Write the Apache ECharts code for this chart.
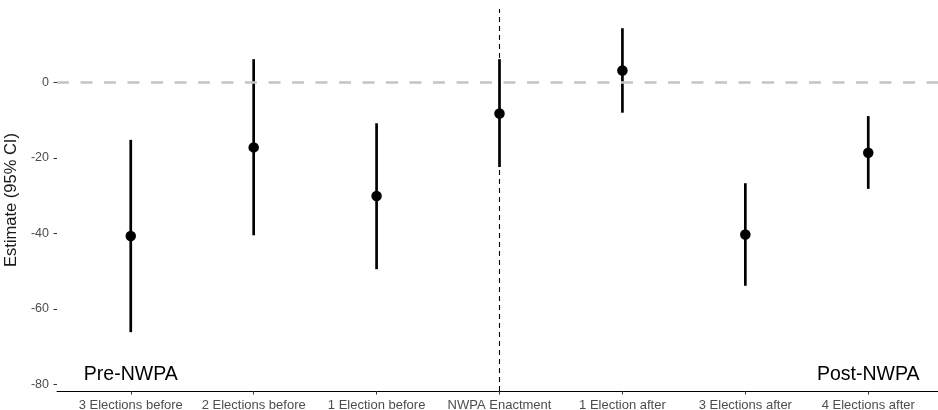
<!DOCTYPE html>
<html>
<head>
<meta charset="utf-8">
<script src="https://cdn.jsdelivr.net/npm/echarts@6/dist/echarts.min.js"></script>
<style>
  html, body { margin: 0; padding: 0; background: #fff; }
  #chart { width: 938px; height: 410px; }
</style>
</head>
<body>
<div id="chart"></div>
<script>
// Event-study estimates with 95% confidence intervals around NWPA enactment
const categories = ['3 Elections before', '2 Elections before', '1 Election before',
  'NWPA Enactment', '1 Election after', '3 Elections after', '4 Elections after'];
const estimates = [-40.7, -17.2, -30.1, -8.2, 3.2, -40.3, -18.6];
const ciLower = [-66.2, -40.5, -49.5, -22.4, -8.0, -53.9, -28.2];
const ciUpper = [-15.2, 6.2, -10.8, 6.2, 14.4, -26.7, -8.9];
const yTicks = [-80, -60, -40, -20, 0];
const referenceY = 0;
const enactmentIndex = 3;
const periodLabels = ['Pre-NWPA', 'Post-NWPA'];
const periodLabelX = [0, 6];
const periodLabelY = -77.4;

const xIdx = categories.map((_, i) => i);
const font = 'Liberation Sans, Arial, Helvetica, sans-serif';

const chart = echarts.init(document.getElementById('chart'), null, { renderer: 'canvas' });

chart.setOption({
  animation: false,
  backgroundColor: '#ffffff',
  grid: { left: 57, right: -4, top: 9, bottom: 19, containLabel: false, outerBoundsMode: 'none' },
  xAxis: {
    type: 'value',
    min: -0.6,
    max: 6.6,
    splitLine: { show: false },
    axisLine: { show: true, onZero: false, lineStyle: { color: '#000', width: 1 } },
    axisTick: { show: true, customValues: xIdx, length: 3.5, lineStyle: { color: '#333', width: 1 } },
    axisLabel: {
      customValues: xIdx,
      formatter: v => categories[Math.round(v)] || '',
      color: '#4d4d4d', fontSize: 13, fontFamily: font, margin: 8
    }
  },
  yAxis: {
    type: 'value',
    min: -81.8,
    max: 19.5,
    name: 'Estimate (95% CI)',
    nameLocation: 'middle',
    nameRotate: 90,
    nameGap: 36,
    nameTextStyle: { color: '#1a1a1a', fontSize: 16.5, fontFamily: font },
    splitLine: { show: false },
    axisLine: { show: true, onZero: false, lineStyle: { color: 'rgba(0,0,0,0)' } },
    axisTick: { show: true, customValues: yTicks, length: 3.5, lineStyle: { color: '#333', width: 1 } },
    axisLabel: {
      customValues: yTicks,
      color: '#4d4d4d', fontSize: 12.5, fontFamily: font, margin: 8
    }
  },
  series: [
    {
      // reference lines: zero effect and enactment date
      type: 'line',
      data: [],
      z: 1,
      silent: true,
      markLine: {
        silent: true,
        symbol: ['none', 'none'],
        label: { show: false },
        data: [
          { yAxis: referenceY, lineStyle: { color: '#c4c4c4', width: 2.6, type: [12, 11.5] } },
          { xAxis: enactmentIndex, lineStyle: { color: '#000', width: 1.1, type: [5, 4] } }
        ]
      }
    },
    {
      // confidence-interval whiskers
      type: 'custom',
      z: 3,
      data: xIdx.map(i => [i, ciLower[i], ciUpper[i]]),
      encode: { x: 0, y: [1, 2] },
      renderItem: (params, api) => {
        const x = api.value(0);
        const p1 = api.coord([x, api.value(1)]);
        const p2 = api.coord([x, api.value(2)]);
        return {
          type: 'line',
          shape: { x1: p1[0], y1: p1[1], x2: p2[0], y2: p2[1] },
          style: { stroke: '#000', lineWidth: 2.7 }
        };
      }
    },
    {
      // point estimates
      type: 'scatter',
      z: 4,
      symbol: 'circle',
      symbolSize: 10.5,
      itemStyle: { color: '#000', opacity: 1 },
      data: xIdx.map(i => [i, estimates[i]])
    },
    {
      // period annotations
      type: 'scatter',
      z: 5,
      symbolSize: 0,
      silent: true,
      itemStyle: { opacity: 1 },
      data: periodLabels.map((t, i) => ({ value: [periodLabelX[i], periodLabelY], name: t })),
      label: {
        show: true,
        position: 'inside',
        formatter: p => p.name,
        color: '#000',
        fontSize: 19.5,
        fontFamily: font
      }
    }
  ]
});
</script>
</body>
</html>
